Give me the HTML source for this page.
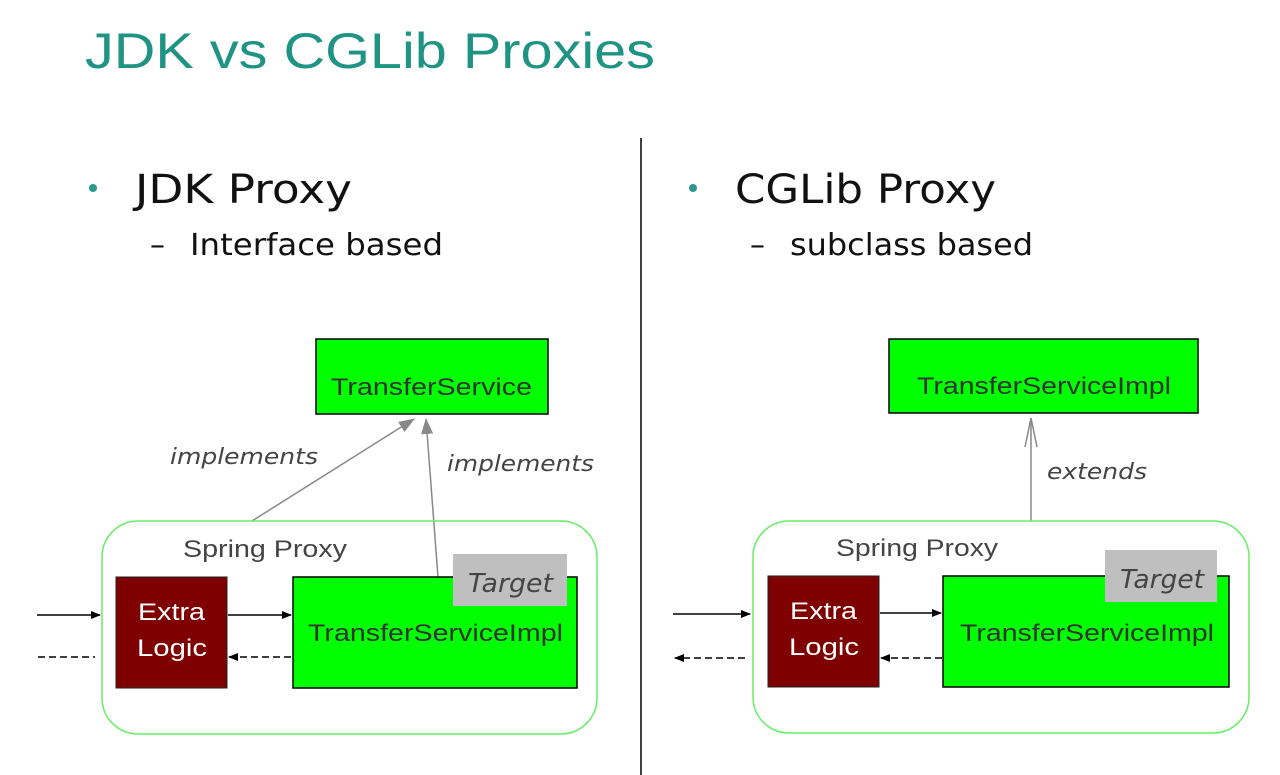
<!DOCTYPE html>
<html><head><meta charset="utf-8"><style>
html,body{margin:0;padding:0;background:#fff;width:1280px;height:775px;overflow:hidden}
svg{display:block;font-family:"DejaVu Sans","Liberation Sans",sans-serif}
</style></head><body>
<svg width="1280" height="775" viewBox="0 0 1280 775">
<defs>
<marker id="ab" markerWidth="10" markerHeight="8" refX="9" refY="4" orient="auto" markerUnits="userSpaceOnUse"><path d="M0,0 L10,4 L0,8 Z" fill="#000"/></marker>
<marker id="ag" markerWidth="16" markerHeight="12" refX="15" refY="6" orient="auto" markerUnits="userSpaceOnUse"><path d="M0,0 L16,6 L0,12 Z" fill="#888"/></marker>
</defs>
<text x="85" y="68" font-size="50" fill="#1f9384" font-family="Liberation Sans" textLength="570" lengthAdjust="spacingAndGlyphs">JDK vs CGLib Proxies</text>
<line x1="641" y1="138" x2="641" y2="775" stroke="#000" stroke-width="1.5"/>
<!-- left -->
<circle cx="93" cy="188" r="4" fill="#2a9a8a"/>
<text x="135" y="203" font-size="40" fill="#111" textLength="217" lengthAdjust="spacingAndGlyphs">JDK Proxy</text>
<text x="150" y="255" font-size="30" fill="#111">–</text>
<text x="190" y="255" font-size="30" fill="#111" textLength="253" lengthAdjust="spacingAndGlyphs">Interface based</text>
<rect x="316" y="339" width="232" height="75" fill="#00ff00" stroke="#000" stroke-width="1.5"/>
<text x="331" y="395" font-size="24" fill="#333" font-family="Liberation Sans" textLength="201" lengthAdjust="spacingAndGlyphs">TransferService</text>
<line x1="252" y1="521" x2="414" y2="419" stroke="#888" stroke-width="1.5" marker-end="url(#ag)"/>
<line x1="438" y1="577" x2="426" y2="419" stroke="#888" stroke-width="1.5" marker-end="url(#ag)"/>
<text x="170" y="464" font-size="22" font-style="italic" fill="#444" textLength="148" lengthAdjust="spacingAndGlyphs">implements</text>
<text x="447" y="471" font-size="22" font-style="italic" fill="#444" textLength="147" lengthAdjust="spacingAndGlyphs">implements</text>
<rect x="102" y="521" width="495" height="213" rx="36" fill="none" stroke="#66ee66" stroke-width="1.5"/>
<text x="183" y="557" font-size="24" fill="#444" font-family="Liberation Sans" textLength="164" lengthAdjust="spacingAndGlyphs">Spring Proxy</text>
<rect x="116" y="577" width="111" height="111" fill="#7f0000" stroke="#222"/>
<text x="138" y="620" font-size="24" fill="#fff" font-family="Liberation Sans" textLength="67" lengthAdjust="spacingAndGlyphs">Extra</text>
<text x="137" y="656" font-size="24" fill="#fff" font-family="Liberation Sans" textLength="70" lengthAdjust="spacingAndGlyphs">Logic</text>
<rect x="293" y="577" width="284" height="111" fill="#00ff00" stroke="#000" stroke-width="1.5"/>
<rect x="453" y="554" width="114" height="52" fill="#bfbfbf"/>
<text x="468" y="592" font-size="26" font-style="italic" fill="#444" textLength="85" lengthAdjust="spacingAndGlyphs">Target</text>
<text x="308" y="641" font-size="24" fill="#333" font-family="Liberation Sans" textLength="255" lengthAdjust="spacingAndGlyphs">TransferServiceImpl</text>
<line x1="37" y1="615" x2="100" y2="615" stroke="#000" stroke-width="1.5" marker-end="url(#ab)"/>
<line x1="228" y1="615" x2="291" y2="615" stroke="#000" stroke-width="1.5" marker-end="url(#ab)"/>
<line x1="291" y1="657" x2="229" y2="657" stroke="#000" stroke-width="1.5" stroke-dasharray="7,4" marker-end="url(#ab)"/>
<line x1="38" y1="657" x2="95" y2="657" stroke="#000" stroke-width="1.5" stroke-dasharray="7,4"/>
<!-- right -->
<circle cx="693" cy="188" r="4" fill="#2a9a8a"/>
<text x="735" y="203" font-size="40" fill="#111" textLength="261" lengthAdjust="spacingAndGlyphs">CGLib Proxy</text>
<text x="750" y="255" font-size="30" fill="#111">–</text>
<text x="790" y="255" font-size="30" fill="#111" textLength="243" lengthAdjust="spacingAndGlyphs">subclass based</text>
<rect x="889" y="339" width="309" height="74" fill="#00ff00" stroke="#000" stroke-width="1.5"/>
<text x="917" y="394" font-size="24" fill="#333" font-family="Liberation Sans" textLength="254" lengthAdjust="spacingAndGlyphs">TransferServiceImpl</text>
<line x1="1031" y1="521" x2="1031" y2="420" stroke="#888" stroke-width="1.5"/>
<path d="M1025,447 L1031,418 L1037,447" fill="none" stroke="#888" stroke-width="1.5"/>
<text x="1047" y="479" font-size="22" font-style="italic" fill="#444" textLength="100" lengthAdjust="spacingAndGlyphs">extends</text>
<rect x="753" y="521" width="496" height="212" rx="36" fill="none" stroke="#66ee66" stroke-width="1.5"/>
<text x="836" y="556" font-size="24" fill="#444" font-family="Liberation Sans" textLength="162" lengthAdjust="spacingAndGlyphs">Spring Proxy</text>
<rect x="768" y="576" width="111" height="111" fill="#7f0000" stroke="#222"/>
<text x="790" y="619" font-size="24" fill="#fff" font-family="Liberation Sans" textLength="67" lengthAdjust="spacingAndGlyphs">Extra</text>
<text x="789" y="655" font-size="24" fill="#fff" font-family="Liberation Sans" textLength="70" lengthAdjust="spacingAndGlyphs">Logic</text>
<rect x="943" y="576" width="286" height="111" fill="#00ff00" stroke="#000" stroke-width="1.5"/>
<rect x="1105" y="550" width="112" height="52" fill="#bfbfbf"/>
<text x="1120" y="588" font-size="26" font-style="italic" fill="#444" textLength="84" lengthAdjust="spacingAndGlyphs">Target</text>
<text x="960" y="641" font-size="24" fill="#333" font-family="Liberation Sans" textLength="254" lengthAdjust="spacingAndGlyphs">TransferServiceImpl</text>
<line x1="673" y1="614" x2="750" y2="614" stroke="#000" stroke-width="1.5" marker-end="url(#ab)"/>
<line x1="880" y1="613" x2="941" y2="613" stroke="#000" stroke-width="1.5" marker-end="url(#ab)"/>
<line x1="942" y1="658" x2="881" y2="658" stroke="#000" stroke-width="1.5" stroke-dasharray="7,4" marker-end="url(#ab)"/>
<line x1="745" y1="658" x2="675" y2="658" stroke="#000" stroke-width="1.5" stroke-dasharray="7,4" marker-end="url(#ab)"/>
</svg>
</body></html>
